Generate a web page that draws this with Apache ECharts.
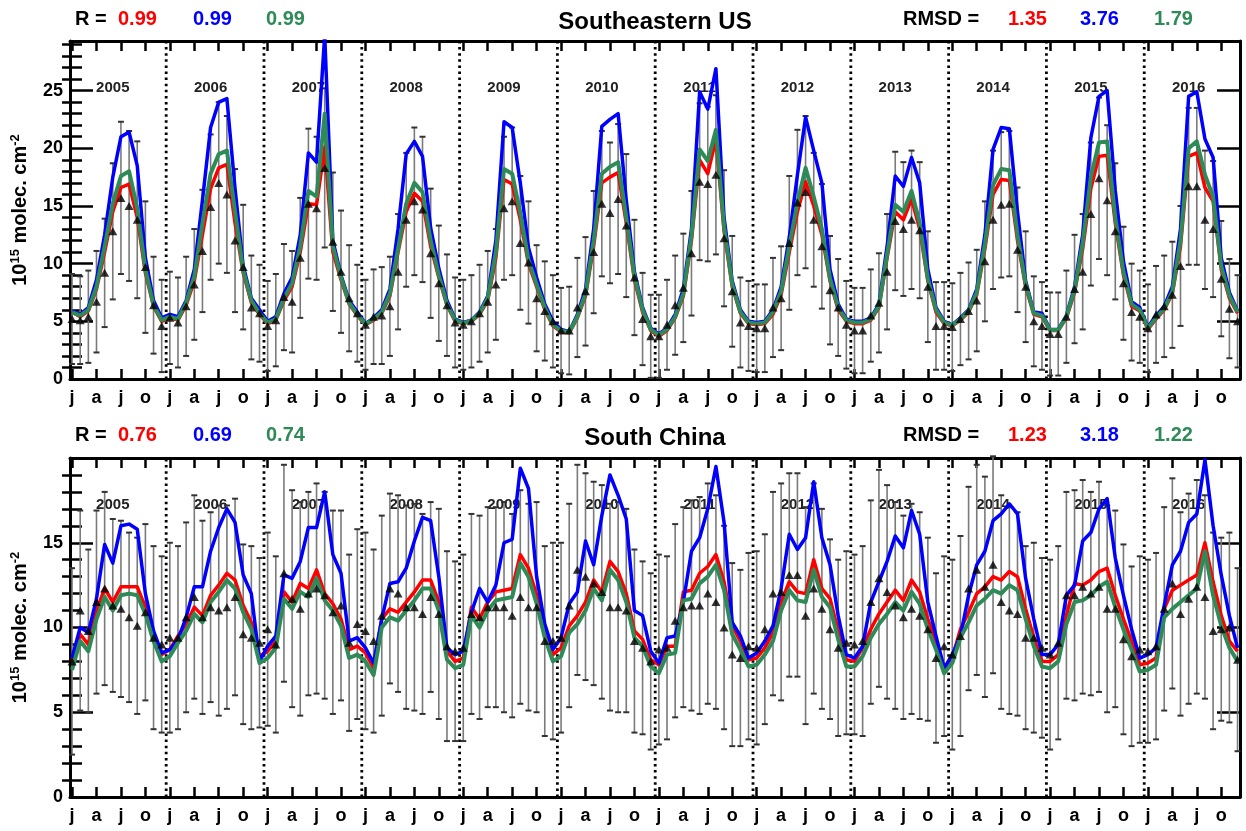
<!DOCTYPE html>
<html><head><meta charset="utf-8">
<script src="https://cdn.jsdelivr.net/npm/echarts@6/dist/echarts.min.js"></script>
<style>html,body{margin:0;padding:0;background:#fff;}#c{width:1246px;height:831px;}</style>
</head><body><div id="c"></div>
<script>
// ---------------- data ----------------
const years = [2005,2006,2007,2008,2009,2010,2011,2012,2013,2014,2015,2016];
const monthTickLabels = ['j','a','j','o'];
const panelTitles = ['Southeastern US','South China'];
const rLabel = 'R =';
const rmsdLabel = 'RMSD =';
const seR = ['0.99','0.99','0.99'];
const seRMSD = ['1.35','3.76','1.79'];
const scR = ['0.76','0.69','0.74'];
const scRMSD = ['1.23','3.18','1.22'];
const seYTicks = [0,5,10,15,20,25];
const scYTicks = [0,5,10,15];

// Southeastern US (monthly, Jan 2005 - Dec 2016)
const seObs = [
 5.2,5.1,5.4,6.7,9.2,12.8,15.7,15.0,13.8,9.7,6.4,4.6,
 5.3,4.9,6.3,8.2,11.1,14.9,17.0,16.0,12.0,9.7,6.2,5.7,
 4.6,5.1,7.1,6.7,10.5,15.2,14.8,18.3,11.9,9.3,7.0,5.7,
 4.7,5.4,5.5,6.3,9.3,13.8,15.4,14.7,10.9,8.3,6.4,4.9,
 4.7,5.0,5.7,6.7,8.2,14.8,15.4,11.8,10.1,7.0,5.9,5.0,
 4.2,4.2,6.2,7.6,11.0,15.2,14.4,15.6,13.3,8.8,5.2,3.7,
 3.7,4.7,6.4,7.9,10.9,17.1,16.9,17.7,12.2,7.6,4.9,4.6,
 4.4,4.4,6.2,7.0,11.8,15.3,16.2,13.8,11.5,7.7,6.2,4.7,
 4.2,4.2,5.5,6.6,9.3,13.7,13.0,13.8,12.9,8.0,4.6,4.6,
 4.5,5.2,5.9,6.8,10.2,13.8,15.1,15.2,11.2,8.0,5.0,4.6,
 3.9,3.9,5.4,7.8,9.3,14.3,17.4,15.5,12.8,8.3,5.8,5.4,
 4.4,5.6,6.3,7.3,9.8,16.7,16.7,13.8,13.0,8.7,6.1,5.0];
const seErr = [
 3.9,3.8,4.0,4.4,4.7,5.9,6.6,6.5,6.8,5.7,4.2,4.0,
 4.0,3.9,4.3,4.8,5.3,6.3,7.0,6.8,6.2,5.4,4.5,4.2,
 3.9,4.0,4.6,4.4,5.2,6.5,6.2,6.9,6.0,5.3,4.6,4.2,
 3.9,4.1,4.2,4.3,5.0,5.8,6.4,6.3,5.6,5.0,4.4,3.9,
 3.9,4.0,4.2,4.4,4.8,6.2,6.4,5.8,5.3,4.6,4.3,4.0,
 3.7,3.8,4.3,4.7,5.3,6.3,6.1,6.5,6.2,5.0,4.0,3.6,
 3.6,3.9,4.3,4.7,5.4,6.8,6.7,6.9,5.9,4.8,3.9,3.9,
 3.8,3.8,4.3,4.5,5.8,6.3,6.6,5.8,5.4,4.7,4.2,3.8,
 3.7,3.7,4.0,4.3,5.0,6.0,5.8,6.0,5.9,4.8,3.8,3.8,
 3.8,4.0,4.2,4.4,5.2,6.0,6.3,6.3,5.4,4.8,3.9,3.8,
 3.6,3.6,4.0,4.7,5.0,6.2,7.0,6.5,5.9,4.9,4.2,4.0,
 3.8,4.2,4.4,4.6,5.2,6.8,6.8,6.0,5.9,5.0,4.3,4.0];
const seRed = [
 5.8,5.4,5.9,7.8,11.0,14.5,16.6,16.9,14.0,9.2,6.3,5.0,
 5.3,5.1,6.4,8.5,12.5,16.5,18.3,18.6,13.5,9.2,6.6,5.6,
 4.8,5.1,6.8,8.0,11.0,15.2,15.1,20.1,11.0,8.6,6.5,5.5,
 4.7,5.1,5.7,7.2,11.0,14.5,16.1,15.4,11.5,8.8,6.4,5.0,
 4.8,5.0,5.6,6.8,10.5,17.3,16.9,13.8,10.0,8.0,6.0,4.6,
 4.1,4.0,5.3,7.2,11.5,17.0,17.5,17.9,13.5,8.6,5.8,4.2,
 3.7,4.2,5.3,7.2,12.0,19.0,17.8,20.8,12.8,8.0,5.7,4.8,
 4.7,4.8,5.6,7.3,11.0,14.5,17.1,15.0,12.5,8.5,6.0,5.0,
 4.8,4.8,5.1,6.2,10.5,14.5,13.8,15.6,13.0,8.5,5.8,4.8,
 4.6,5.1,5.8,7.3,11.3,16.0,17.3,17.2,12.0,8.0,5.6,5.4,
 4.2,4.2,5.3,7.5,11.3,16.5,19.3,19.4,13.5,9.0,6.3,5.9,
 4.3,5.2,6.0,7.4,11.5,19.3,19.6,16.6,15.4,9.5,7.0,5.7];
const seBlue = [
 5.9,5.6,6.2,8.6,12.5,17.5,21.0,21.4,18.5,10.5,6.8,5.3,
 5.6,5.4,6.8,9.5,15.5,21.8,24.0,24.3,16.5,9.8,7.0,6.0,
 5.0,5.4,7.4,8.8,12.5,19.6,18.8,29.8,12.0,9.0,6.8,5.8,
 4.8,5.3,6.0,7.8,13.0,19.5,20.6,19.3,13.1,9.6,6.8,5.2,
 4.9,5.1,5.8,7.2,12.0,22.3,21.8,17.0,11.4,8.8,6.5,5.0,
 4.3,4.1,5.6,7.8,13.0,21.9,22.5,23.0,15.5,9.3,6.2,4.4,
 3.9,4.4,5.6,7.8,13.0,24.9,23.4,26.9,14.0,8.5,6.0,5.0,
 4.9,5.0,6.0,8.0,12.3,17.7,22.7,19.8,17.0,9.5,6.5,5.2,
 5.0,5.0,5.3,6.5,11.5,17.6,16.7,19.2,17.0,9.5,6.2,5.0,
 4.7,5.3,6.0,7.8,12.5,19.9,21.8,21.7,14.5,8.5,5.8,5.7,
 4.3,4.3,5.5,8.0,12.5,20.9,24.5,25.0,16.3,10.2,6.7,6.2,
 4.5,5.5,6.3,8.0,13.0,24.5,24.9,20.8,19.2,10.5,7.5,5.9];
const seGreen = [
 5.8,5.5,6.0,8.0,11.5,15.2,17.6,18.0,14.8,9.5,6.4,5.1,
 5.4,5.2,6.6,8.9,13.5,17.8,19.5,19.8,14.5,9.4,6.8,5.7,
 4.9,5.2,7.0,8.3,11.5,16.3,15.8,23.0,11.5,8.8,6.6,5.6,
 4.75,5.2,5.8,7.4,11.3,15.2,17.0,16.2,12.0,9.0,6.5,5.1,
 4.85,5.05,5.7,7.0,11.0,18.2,17.8,14.4,10.3,8.2,6.2,4.7,
 4.2,4.05,5.4,7.4,12.0,17.8,18.4,18.8,14.0,8.9,6.0,4.3,
 3.8,4.3,5.4,7.4,12.4,19.9,18.9,21.6,13.2,8.2,5.8,4.9,
 4.8,4.9,5.8,7.6,11.5,15.3,18.3,15.8,13.0,8.7,6.2,5.1,
 4.9,4.9,5.2,6.3,10.8,15.1,14.5,16.3,13.5,8.7,6.0,4.9,
 4.65,5.2,5.9,7.5,11.7,16.8,18.2,18.1,12.5,8.2,5.7,5.5,
 4.25,4.25,5.4,7.7,11.8,17.5,20.5,20.6,14.0,9.3,6.5,6.0,
 4.4,5.3,6.1,7.6,12.0,20.0,20.6,17.7,15.8,9.8,7.2,5.8];

// South China
const scObs = [
 8.0,11.0,9.8,11.5,12.3,11.3,11.1,10.6,10.1,10.9,9.4,9.0,
 9.4,9.4,10.6,11.8,10.6,11.2,11.0,11.2,11.8,9.6,9.4,9.1,
 9.9,9.0,13.2,11.7,11.1,12.0,12.3,11.9,10.9,11.3,9.1,10.2,
 9.8,9.2,10.7,12.3,12.0,11.2,11.2,10.8,11.8,10.8,8.9,8.6,
 8.8,10.8,10.6,11.2,11.2,11.2,10.7,11.8,11.2,11.2,9.2,9.2,
 9.4,11.3,13.4,13.0,12.6,12.1,11.2,11.2,11.0,9.2,8.8,8.0,
 8.7,8.8,10.4,11.2,11.3,11.3,12.0,11.5,10.0,8.4,8.2,8.9,
 8.8,9.9,12.0,12.1,13.1,13.1,10.7,12.3,11.1,9.9,8.8,9.1,
 9.0,9.2,11.5,12.9,12.1,11.3,10.6,11.1,10.7,9.9,8.2,8.9,
 8.4,9.5,12.3,13.4,12.4,13.7,11.5,11.0,10.8,9.4,9.4,8.8,
 8.4,9.1,11.9,11.9,12.4,12.0,12.4,11.1,11.1,9.3,8.3,8.7,
 8.6,8.9,11.1,12.6,10.8,11.7,12.4,11.8,9.8,9.9,10.0,8.1];
const scErr = [
 5.5,5.9,4.8,5.4,5.7,5.1,5.2,5.0,5.2,5.2,5.4,5.2,
 5.6,5.4,5.6,6.0,5.7,5.6,6.2,6.0,5.8,5.3,5.4,5.0,
 5.7,5.2,6.4,6.4,6.3,6.0,6.2,6.1,6.0,5.6,5.2,5.6,
 5.8,5.4,5.9,5.6,5.8,6.0,6.1,5.9,5.6,6.2,5.6,5.3,
 5.5,5.9,6.0,5.9,5.9,6.2,6.0,6.3,6.1,6.2,5.6,5.8,
 5.6,6.0,6.2,6.1,6.0,6.3,6.1,6.2,6.0,5.4,5.1,5.2,
 5.6,5.4,5.7,5.9,6.2,6.4,6.5,6.3,6.0,5.4,5.2,5.5,
 5.7,5.6,6.0,6.4,6.0,6.0,6.4,6.2,5.9,5.3,5.2,5.4,
 5.3,5.6,6.0,6.4,6.3,6.1,6.0,6.2,6.1,5.4,5.0,5.3,
 5.6,5.9,6.0,6.2,6.5,6.4,6.3,6.1,6.0,5.4,5.6,5.3,
 5.6,5.7,6.1,6.2,6.3,6.0,6.2,6.1,5.8,5.6,5.3,5.5,
 5.4,5.5,6.0,6.2,6.0,6.2,6.3,6.0,5.8,5.4,5.6,5.4];
const scRed = [
 8.0,9.6,9.0,11.0,12.3,11.5,12.4,12.4,12.4,11.2,9.6,8.4,
 8.7,9.5,10.2,11.2,10.7,11.9,12.5,13.2,12.8,11.3,10.3,8.3,
 8.6,9.2,12.1,11.5,12.6,12.3,13.4,12.0,11.4,10.5,8.7,8.9,
 8.5,7.6,10.5,11.1,10.9,11.5,12.1,12.8,12.8,11.5,8.6,8.0,
 8.2,11.2,10.5,11.5,12.1,12.2,12.3,14.3,13.5,11.9,9.9,8.4,
 8.8,10.1,10.7,11.5,12.8,12.1,13.9,13.3,12.0,9.8,9.3,8.1,
 7.8,8.9,8.9,12.1,12.2,13.2,13.6,14.3,12.7,10.1,9.2,8.1,
 8.2,8.8,9.7,11.5,12.7,12.1,12.0,14.0,12.3,11.7,9.8,8.1,
 8.0,8.8,9.9,10.8,11.5,12.2,11.6,12.8,12.1,10.5,9.2,7.6,
 8.2,9.9,10.9,12.0,12.4,13.0,12.8,13.3,13.0,11.1,9.4,8.0,
 8.0,8.4,10.7,12.6,12.5,12.8,13.3,13.5,11.9,10.5,9.2,7.8,
 7.9,8.2,11.1,12.2,12.5,12.8,13.1,15.0,12.7,10.7,9.2,8.6];
const scBlue = [
 8.2,10.0,9.7,11.7,14.9,13.8,16.0,16.1,15.8,12.0,9.8,8.5,
 8.7,9.3,10.6,12.4,12.4,14.5,15.9,17.0,16.2,13.1,12.0,8.0,
 8.9,9.5,13.1,12.9,13.9,15.9,15.9,18.0,14.3,13.2,9.2,9.4,
 8.8,7.9,10.5,12.6,12.7,13.5,15.1,16.5,16.3,13.0,8.8,8.4,
 8.6,10.9,12.3,11.5,12.5,15.0,15.2,19.4,18.2,13.0,10.2,8.7,
 9.4,11.4,12.1,15.1,13.7,16.6,19.0,17.8,16.4,11.0,10.7,8.6,
 7.9,9.4,9.5,11.5,14.5,15.3,17.0,19.5,16.2,10.3,9.5,8.2,
 8.5,9.2,10.1,12.3,15.5,14.6,15.3,18.6,15.3,13.7,10.7,8.4,
 8.2,8.9,11.5,12.7,13.9,15.4,14.7,16.9,15.5,11.5,9.5,7.6,
 8.4,9.5,11.9,13.7,14.5,16.3,16.7,17.3,16.7,12.9,10.5,8.4,
 8.4,9.0,11.9,12.5,15.1,15.6,17.0,17.6,14.1,11.9,9.9,8.2,
 8.4,8.8,11.3,13.7,14.5,16.2,16.7,19.9,16.0,13.1,10.7,8.8];
const scGreen = [
 7.5,9.2,8.6,10.5,11.8,11.0,11.9,12.0,11.9,10.8,9.2,8.0,
 8.3,9.1,9.8,10.8,10.3,11.5,12.1,12.8,12.3,10.9,9.9,7.9,
 8.2,8.8,11.7,11.1,12.1,11.8,12.9,11.6,11.0,10.1,8.2,8.4,
 8.0,7.2,10.0,10.6,10.4,11.0,11.6,12.3,12.3,11.0,8.1,7.6,
 7.8,10.7,10.0,11.0,11.6,11.7,11.8,13.8,13.0,11.4,9.4,8.0,
 8.3,9.7,10.2,11.0,12.3,11.6,13.4,12.8,11.5,9.4,8.9,7.7,
 7.3,8.4,8.5,11.6,11.7,12.6,13.0,13.7,12.2,9.6,8.7,7.7,
 7.8,8.4,9.2,11.0,12.2,11.6,11.5,13.4,11.8,11.2,9.3,7.7,
 7.7,8.3,9.4,10.2,10.8,11.5,11.0,12.1,11.4,9.9,8.7,7.3,
 7.9,9.4,10.3,11.3,11.7,12.2,12.0,12.5,12.2,10.5,8.9,7.7,
 7.6,8.0,10.2,11.5,11.6,11.9,12.4,12.7,11.2,9.9,8.7,7.4,
 7.5,7.8,10.6,11.1,11.5,11.9,12.3,14.5,11.9,10.1,8.8,8.0];

// ---------------- styling / layout ----------------
const RED = '#ff0000', BLUE = '#0000ff', GREEN = '#2e8b57';
const FONT = '"Liberation Sans", Arial, sans-serif';
const X_MIN = -0.25, X_MAX = 143.3;
const monthTicks = [];
for (let m = 0; m < years.length * 12; m += 3) monthTicks.push(m);

const panels = [
  {obs: seObs, err: seErr, red: seRed, blue: seBlue, green: seGreen, yMax: 29.3, major: seYTicks,
   top: 41, height: 338, yearY: 25.25, title: panelTitles[0], r: seR, rmsd: seRMSD, textY: 19, titleY: 22},
  {obs: scObs, err: scErr, red: scRed, blue: scBlue, green: scGreen, yMax: 20, major: scYTicks,
   top: 458, height: 339, yearY: 17.25, title: panelTitles[1], r: scR, rmsd: scRMSD, textY: 435, titleY: 438}
];

const grids = [], xAxes = [], yAxes = [], series = [], graphics = [];

panels.forEach((p, g) => {
  grids.push({left: 70, width: 1170, top: p.top, height: p.height});
  const minor = [];
  for (let v = 1; v < p.yMax; v++) if (v % 5 !== 0) minor.push(v);
  const axLine = {show: true, onZero: false, lineStyle: {color: '#000', width: 3}};
  xAxes.push({type: 'value', gridIndex: g, min: X_MIN, max: X_MAX, position: 'bottom',
    axisLine: axLine, splitLine: {show: false},
    axisTick: {show: true, inside: true, length: 10, customValues: monthTicks, lineStyle: {color: '#000', width: 2.5}},
    axisLabel: {show: true, customValues: monthTicks, margin: 10, color: '#000', fontSize: 18, fontWeight: 'bold', fontFamily: FONT,
      formatter: v => monthTickLabels[Math.round(v / 3) % 4]}});
  xAxes.push({type: 'value', gridIndex: g, min: X_MIN, max: X_MAX, position: 'top',
    axisLine: axLine, splitLine: {show: false},
    axisTick: {show: true, inside: true, length: 10, customValues: monthTicks, lineStyle: {color: '#000', width: 2.5}},
    axisLabel: {show: false}});
  yAxes.push({type: 'value', gridIndex: g, min: 0, max: p.yMax, position: 'left',
    axisLine: axLine, splitLine: {show: false},
    axisTick: {show: true, inside: true, length: 23, customValues: p.major, lineStyle: {color: '#000', width: 2.5}},
    axisLabel: {show: true, customValues: p.major, margin: 7, color: '#000', fontSize: 18, fontWeight: 'bold', fontFamily: FONT},
    name: '10{sup|15} molec. cm{sup|-2}', nameLocation: 'middle', nameGap: 37, nameRotate: 90,
    nameTextStyle: {color: '#000', fontSize: 20, fontWeight: 'bold', fontFamily: FONT, lineHeight: 23,
      rich: {sup: {fontSize: 13, fontWeight: 'bold', fontFamily: FONT, verticalAlign: 'top', lineHeight: 13, color: '#000'}}}});
  yAxes.push({type: 'value', gridIndex: g, min: 0, max: p.yMax, position: 'left',
    axisLine: {show: false}, splitLine: {show: false}, axisLabel: {show: false},
    axisTick: {show: true, inside: true, length: 10, customValues: minor, lineStyle: {color: '#000', width: 2.5}}});
  yAxes.push({type: 'value', gridIndex: g, min: 0, max: p.yMax, position: 'right',
    axisLine: axLine, splitLine: {show: false}, axisLabel: {show: false},
    axisTick: {show: true, inside: true, length: 23, customValues: p.major, lineStyle: {color: '#000', width: 2.5}}});
  yAxes.push({type: 'value', gridIndex: g, min: 0, max: p.yMax, position: 'right',
    axisLine: {show: false}, splitLine: {show: false}, axisLabel: {show: false},
    axisTick: {show: true, inside: true, length: 10, customValues: minor, lineStyle: {color: '#000', width: 2.5}}});

  const xi = 2 * g, yi = 4 * g;
  const yMax = p.yMax;
  series.push({type: 'custom', xAxisIndex: xi, yAxisIndex: yi, silent: true, z: 1,
    data: years.slice(1).map((y, k) => [(k + 1) * 12 - 0.45]),
    encode: {x: 0},
    renderItem: (params, api) => {
      const x = api.value(0);
      const a = api.coord([x, 0]), b = api.coord([x, yMax]);
      return {type: 'line', shape: {x1: a[0], y1: a[1], x2: b[0], y2: b[1]},
        style: {stroke: '#000', lineWidth: 2.8, lineDash: [2.5, 3.6]}};
    }});
  series.push({type: 'custom', xAxisIndex: xi, yAxisIndex: yi, silent: true, z: 1,
    data: years.map((y, k) => [k * 12 + 5, p.yearY, y]),
    encode: {x: 0, y: 1},
    renderItem: (params, api) => {
      const c = api.coord([api.value(0), api.value(1)]);
      return {type: 'text', x: c[0], y: c[1],
        style: {text: String(api.value(2)), fill: '#222', fontSize: 15, fontWeight: 'bold', fontFamily: FONT,
          align: 'center', verticalAlign: 'middle'}};
    }});
  series.push({type: 'custom', xAxisIndex: xi, yAxisIndex: yi, silent: true, z: 2,
    data: p.obs.map((v, i) => [i, v - p.err[i], v + p.err[i]]),
    encode: {x: 0, y: [1, 2]},
    renderItem: (params, api) => {
      const x = api.value(0);
      const lo = api.coord([x, api.value(1)]), hi = api.coord([x, api.value(2)]);
      const c = 3;
      return {type: 'group', children: [
        {type: 'line', shape: {x1: lo[0], y1: lo[1], x2: hi[0], y2: hi[1]}, style: {stroke: '#7a7a7a', lineWidth: 1.6}},
        {type: 'line', shape: {x1: lo[0] - c, y1: lo[1], x2: lo[0] + c, y2: lo[1]}, style: {stroke: '#333', lineWidth: 2}},
        {type: 'line', shape: {x1: hi[0] - c, y1: hi[1], x2: hi[0] + c, y2: hi[1]}, style: {stroke: '#333', lineWidth: 2}}
      ]};
    }});
  const lineS = (data, color, w) => ({type: 'line', xAxisIndex: xi, yAxisIndex: yi, z: 3, silent: true,
    data: data.map((v, i) => [i, v]), showSymbol: false, symbol: 'none', clip: true,
    lineStyle: {color: color, width: w, join: 'round'}, itemStyle: {color: color}, animation: false});
  series.push(lineS(p.red, RED, 3.5));
  series.push(lineS(p.blue, BLUE, 3.5));
  series.push(lineS(p.green, GREEN, 4));
  series.push({type: 'scatter', xAxisIndex: xi, yAxisIndex: yi, z: 4, silent: true,
    data: p.obs.map((v, i) => [i, v]), symbol: 'triangle', symbolSize: [9, 8],
    itemStyle: {color: '#000'}});

  const txt = (text, x, y, color, align, size) => ({type: 'text', x: x, y: y,
    style: {text: text, fill: color, fontSize: size || 20, fontWeight: 'bold', fontFamily: FONT,
      align: align || 'left', verticalAlign: 'middle'}});
  graphics.push(txt(rLabel, 75, p.textY, '#000'));
  graphics.push(txt(p.r[0], 118, p.textY, RED));
  graphics.push(txt(p.r[1], 193, p.textY, BLUE));
  graphics.push(txt(p.r[2], 266, p.textY, GREEN));
  graphics.push(txt(rmsdLabel, 903, p.textY, '#000'));
  graphics.push(txt(p.rmsd[0], 1008, p.textY, RED));
  graphics.push(txt(p.rmsd[1], 1080, p.textY, BLUE));
  graphics.push(txt(p.rmsd[2], 1154, p.textY, GREEN));
  graphics.push(txt(p.title, 655, p.titleY, '#000', 'center', 24));
});

const chart = echarts.init(document.getElementById('c'), null, {renderer: 'canvas'});
chart.setOption({
  animation: false,
  backgroundColor: '#fff',
  grid: grids, xAxis: xAxes, yAxis: yAxes, series: series, graphic: graphics
});
</script></body></html>
